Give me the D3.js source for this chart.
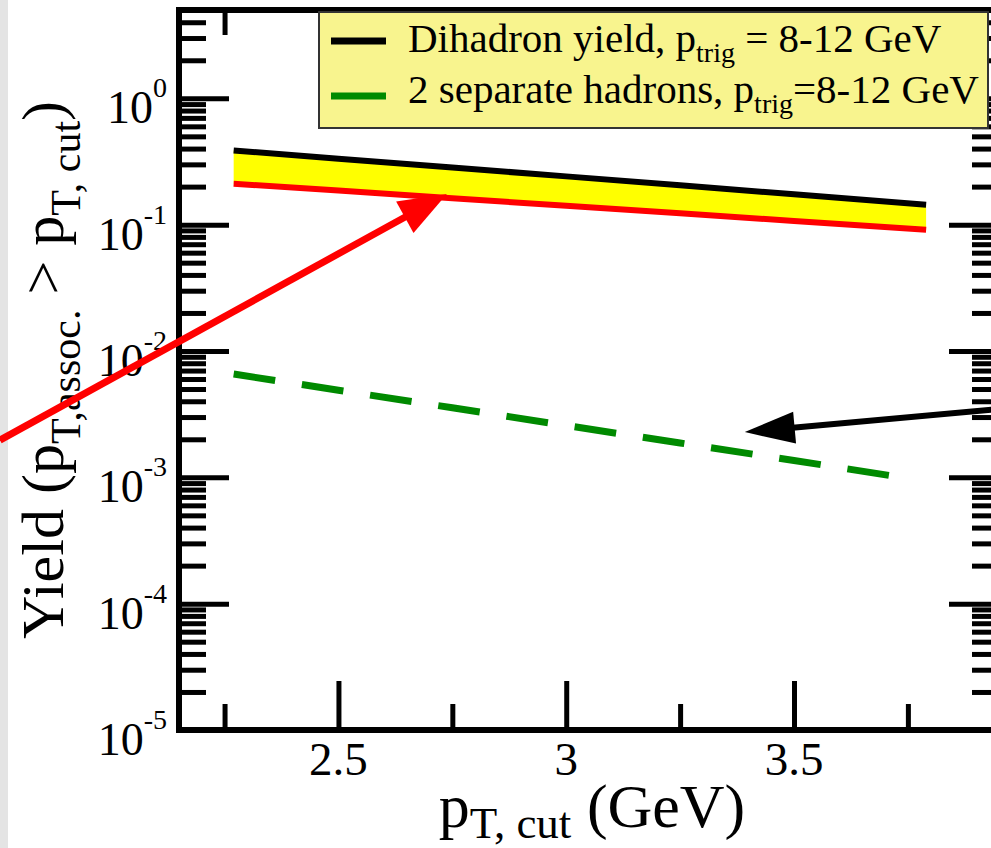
<!DOCTYPE html>
<html><head><meta charset="utf-8">
<script src="https://cdn.jsdelivr.net/npm/d3@7"></script>
<style>body{margin:0;background:#fff;overflow:hidden}</style>
</head><body>
<svg id="chart" width="991" height="848"></svg>
<script>
// ---- data ----
const pT = [2.27, 2.5, 2.75, 3.0, 3.25, 3.5, 3.79];
const dihadronUpper = [0.386, 0.333, 0.283, 0.241, 0.205, 0.174, 0.144];
const dihadronLower = [0.211, 0.186, 0.162, 0.141, 0.123, 0.107, 0.091];
const pTSep = [2.27, 2.5, 2.75, 3.0, 3.25, 3.5, 3.72];
const separateHadrons = [0.00657, 0.00489, 0.00355, 0.00257, 0.00187, 0.00136, 0.00102];
const xMajorTicks = [2.5, 3, 3.5];
const xMinorTicks = [2.25, 2.75, 3.25, 3.75];
const yExponents = [-5, -4, -3, -2, -1, 0];
const legendLabels = [
  {main: "Dihadron yield, p", sub: "trig", rest: " = 8-12 GeV", color: "#000"},
  {main: "2 separate hadrons, p", sub: "trig", rest: "=8-12 GeV", color: "#008a00"}
];
const redArrow = [[1.757, 0.00197], [2.738, 0.1746]];
const blackArrow = [[3.95, 0.00347], [3.392, 0.00228]];

// ---- layout ----
const W = 991, H = 848;
const L = 179, R = 999, T = 10, B = 730;
const svg = d3.select("#chart");
const x = d3.scaleLinear().domain([2.15, 3.95]).range([L, R]);
const y = d3.scaleLog().domain([1e-5, 5]).range([B, T]);
const serif = "'Liberation Serif','Times New Roman',serif";

svg.append("rect").attr("width", W).attr("height", H).attr("fill", "#fff");
svg.append("rect").attr("x", 0).attr("y", 0).attr("width", 8).attr("height", H).attr("fill", "#e4e4e4");

svg.append("clipPath").attr("id", "clip").append("rect")
  .attr("x", L).attr("y", T).attr("width", R - L).attr("height", B - T);
const plot = svg.append("g").attr("clip-path", "url(#clip)");

// band
const band = pT.map((p, i) => ({p, hi: dihadronUpper[i], lo: dihadronLower[i]}));
plot.append("path").datum(band)
  .attr("d", d3.area().x(d => x(d.p)).y0(d => y(d.lo)).y1(d => y(d.hi)))
  .attr("fill", "#ffff00");
plot.append("path").datum(band)
  .attr("d", d3.line().x(d => x(d.p)).y(d => y(d.lo)))
  .attr("fill", "none").attr("stroke", "#ff0000").attr("stroke-width", 6);
plot.append("path").datum(band)
  .attr("d", d3.line().x(d => x(d.p)).y(d => y(d.hi)))
  .attr("fill", "none").attr("stroke", "#000").attr("stroke-width", 6);
const sep = pTSep.map((p, i) => ({p, v: separateHadrons[i]}));
plot.append("path").datum(sep)
  .attr("d", d3.line().x(d => x(d.p)).y(d => y(d.v)))
  .attr("fill", "none").attr("stroke", "#008a00").attr("stroke-width", 7)
  .attr("stroke-dasharray", "42,27");

// ticks via axes
const yMinor = [];
yExponents.forEach(e => { for (let m = 2; m <= 9; m++) { const v = m * Math.pow(10, e); if (v <= 5) yMinor.push(v); } });
const yMajor = yExponents.map(e => Math.pow(10, e));
function styleTicks(g, w) {
  g.select(".domain").remove();
  g.selectAll(".tick line").attr("stroke", "#000").attr("stroke-width", w);
  g.selectAll(".tick text").remove();
}
svg.append("g").attr("transform", `translate(${L + 3},0)`)
  .call(d3.axisLeft(y).tickValues(yMajor).tickSize(-47).tickFormat("")).call(g => styleTicks(g, 5));
svg.append("g").attr("transform", `translate(${L + 3},0)`)
  .call(d3.axisLeft(y).tickValues(yMinor).tickSize(-24).tickFormat("")).call(g => styleTicks(g, 5));
svg.append("g").attr("transform", `translate(${R - 3},0)`)
  .call(d3.axisRight(y).tickValues(yMajor).tickSize(-47).tickFormat("")).call(g => styleTicks(g, 5));
svg.append("g").attr("transform", `translate(${R - 3},0)`)
  .call(d3.axisRight(y).tickValues(yMinor).tickSize(-24).tickFormat("")).call(g => styleTicks(g, 5));
svg.append("g").attr("transform", `translate(0,${B - 3})`)
  .call(d3.axisBottom(x).tickValues(xMajorTicks).tickSize(-46).tickFormat("")).call(g => styleTicks(g, 5));
svg.append("g").attr("transform", `translate(0,${B - 3})`)
  .call(d3.axisBottom(x).tickValues(xMinorTicks).tickSize(-23).tickFormat("")).call(g => styleTicks(g, 5));
svg.append("g").attr("transform", `translate(0,${T + 2})`)
  .call(d3.axisTop(x).tickValues(xMajorTicks).tickSize(-46).tickFormat("")).call(g => styleTicks(g, 5));
svg.append("g").attr("transform", `translate(0,${T + 2})`)
  .call(d3.axisTop(x).tickValues(xMinorTicks).tickSize(-23).tickFormat("")).call(g => styleTicks(g, 5));

// frame
svg.append("rect").attr("x", L).attr("y", T).attr("width", R - L).attr("height", B - T)
  .attr("fill", "none").attr("stroke", "#000").attr("stroke-width", 6);

// y tick labels
yExponents.forEach(e => {
  const t = svg.append("text").attr("x", 167).attr("y", y(Math.pow(10, e)) + 25)
    .attr("text-anchor", "end").attr("font-family", serif).attr("font-size", 46).attr("fill", "#000");
  t.append("tspan").text("10");
  t.append("tspan").attr("font-size", 28).attr("dy", -26).text(e === 0 ? "0" : "-" + Math.abs(e));
});
// x tick labels
xMajorTicks.forEach(v => {
  svg.append("text").attr("x", x(v)).attr("y", B + 45).attr("text-anchor", "middle")
    .attr("font-family", serif).attr("font-size", 47).attr("fill", "#000").text(String(v));
});

// axis titles
const xt = svg.append("text").attr("x", 592).attr("y", 827).attr("text-anchor", "middle")
  .attr("font-family", serif).attr("font-size", 62).attr("fill", "#000");
xt.append("tspan").text("p");
xt.append("tspan").attr("font-size", 45).attr("dy", 11).text("T, cut");
xt.append("tspan").attr("dy", -11).text(" (GeV)");

const yt = svg.append("text").attr("transform", "translate(63,370) rotate(-90)").attr("text-anchor", "middle")
  .attr("font-family", serif).attr("font-size", 60).attr("fill", "#000");
yt.append("tspan").text("Yield (p");
yt.append("tspan").attr("font-size", 42).attr("dy", 17).text("T,assoc.");
yt.append("tspan").attr("dy", -17).text(" > p");
yt.append("tspan").attr("font-size", 42).attr("dy", 17).text("T, cut");
yt.append("tspan").attr("dy", -17).text(")");

// legend
svg.append("rect").attr("x", 319).attr("y", 12).attr("width", 669).attr("height", 116)
  .attr("fill", "#f8f48e").attr("stroke", "#333").attr("stroke-width", 2);
legendLabels.forEach((d, i) => {
  const cy = 41 + i * 55;
  svg.append("line").attr("x1", 331).attr("x2", 386).attr("y1", cy).attr("y2", cy)
    .attr("stroke", d.color).attr("stroke-width", 7);
  const t = svg.append("text").attr("x", 408).attr("y", i === 0 ? 52 : 103)
    .attr("font-family", serif).attr("font-size", 41).attr("fill", "#000");
  t.append("tspan").text(d.main);
  t.append("tspan").attr("font-size", 28).attr("dy", 10).text(d.sub);
  t.append("tspan").attr("dy", -10).text(d.rest);
});

// arrows
function arrow(pts, color, w, headL, headW) {
  const [x0, y0] = [x(pts[0][0]), y(pts[0][1])];
  const [x1, y1] = [x(pts[1][0]), y(pts[1][1])];
  const dx = x1 - x0, dy = y1 - y0, len = Math.hypot(dx, dy);
  const ux = dx / len, uy = dy / len;
  const bx = x1 - ux * headL, by = y1 - uy * headL;
  svg.append("line").attr("x1", x0).attr("y1", y0).attr("x2", bx + ux * 2).attr("y2", by + uy * 2)
    .attr("stroke", color).attr("stroke-width", w);
  svg.append("path").attr("d", d3.line()([[x1, y1], [bx - uy * headW, by + ux * headW], [bx + uy * headW, by - ux * headW]]) + "Z")
    .attr("fill", color);
}
arrow(redArrow, "#ff0000", 7, 48, 18);
arrow(blackArrow, "#000", 6, 50, 16);
</script>
</body></html>
